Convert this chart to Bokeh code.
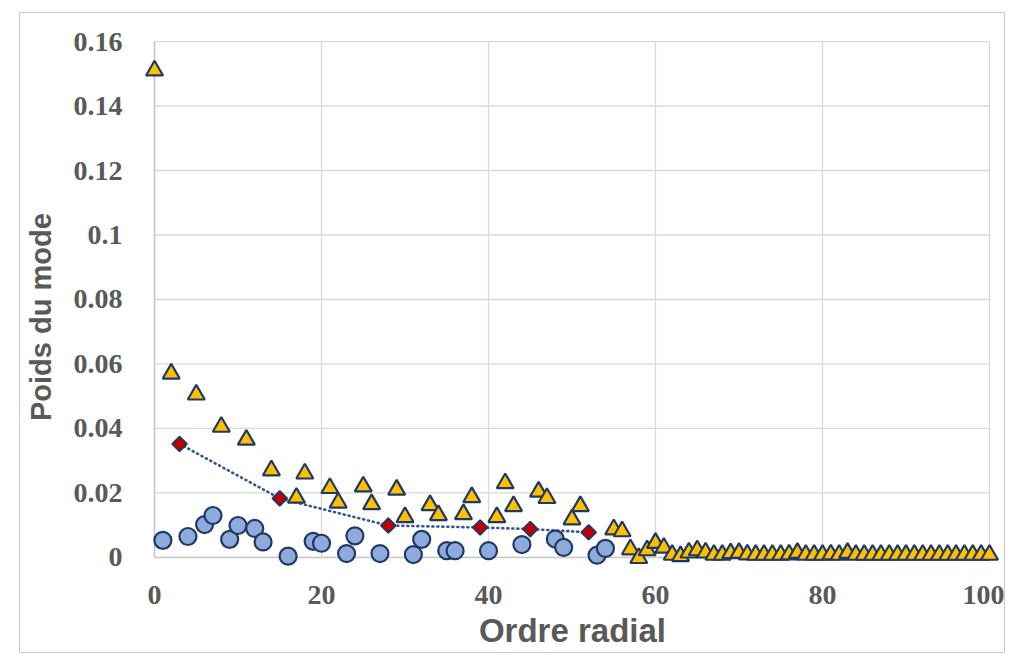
import numpy as np
from bokeh.plotting import figure
from bokeh.models import FixedTicker, Range1d
from bokeh.embed import file_html
from bokeh.resources import INLINE

# ---- data ----
tri_x = [0, 2, 5, 8, 11, 14, 17, 18, 21, 22, 25, 26, 29, 30, 33, 34, 37, 38, 41, 42, 43,
         46, 47, 50, 51, 55, 56, 57, 58, 59, 60, 61, 62, 63, 64, 65, 66, 67, 68, 69, 70,
         71, 72, 73, 74, 75, 76, 77, 78, 79, 80, 81, 82, 83, 84, 85, 86, 87, 88, 89, 90,
         91, 92, 93, 94, 95, 96, 97, 98, 99, 100]
tri_y = [0.151, 0.057, 0.0505, 0.0405, 0.0365, 0.027, 0.0185, 0.026, 0.0215, 0.017, 0.022,
         0.0165, 0.021, 0.0125, 0.0162, 0.0131, 0.0134, 0.0187, 0.0125, 0.023, 0.0159,
         0.0204, 0.0184, 0.0118, 0.0159, 0.0087, 0.0081,
         0.0025, -0.0002, 0.0022, 0.0045, 0.003, 0.0008, 0.0004, 0.0015, 0.0022, 0.0015,
         0.0008, 0.0008, 0.0013, 0.0014, 0.0009, 0.0008, 0.0008, 0.0008, 0.0008, 0.0009,
         0.0014, 0.0008, 0.0008, 0.0008, 0.0009, 0.0008, 0.0014, 0.0008, 0.0008, 0.0008,
         0.0008, 0.0008, 0.0008, 0.0008, 0.0008, 0.0008, 0.0008, 0.0008, 0.0008, 0.0008,
         0.0008, 0.0008, 0.0008, 0.0008]

circ_x = [1, 4, 6, 7, 9, 10, 12, 13, 16, 19, 20, 23, 24, 27, 31, 32, 35, 36, 40, 44, 48, 49, 53, 54]
circ_y = [0.0053, 0.0065, 0.0102, 0.0130, 0.0056, 0.0099, 0.0090, 0.0048, 0.0004, 0.0050,
          0.0044, 0.0012, 0.0067, 0.0012, 0.0009, 0.0056, 0.0021, 0.0021, 0.0021, 0.0040,
          0.0057, 0.0031, 0.0007, 0.0028]

dia_x = [3, 15, 28, 39, 45, 52]
dia_y = [0.0352, 0.0183, 0.0099, 0.0093, 0.0088, 0.0078]

x_ticks = [0, 20, 40, 60, 80, 100]
y_ticks = [0, 0.02, 0.04, 0.06, 0.08, 0.10, 0.12, 0.14, 0.16]
y_tick_labels = ["0", "0.02", "0.04", "0.06", "0.08", "0.1", "0.12", "0.14", "0.16"]

GRID = "#d9d9d9"
TXT = "#595959"
NAVY = "#1f3864"

p = figure(width=986, height=641, output_backend="svg", toolbar_location=None,
           x_range=Range1d(-1.44, 101.56), y_range=Range1d(-0.00405, 0.16311),
           min_border_left=122, min_border_right=4, min_border_top=18, min_border_bottom=84,
           styles={"margin-left": "19px", "margin-top": "12px", "border": "1px solid #c8c8c8"})
p.outline_line_color = None
p.xgrid.grid_line_color = None
p.ygrid.grid_line_color = None

# grid lines limited to the 0..100 / 0..0.16 area
p.segment(x0=[x_ticks[0]] * len(y_ticks), x1=[x_ticks[-1]] * len(y_ticks), y0=y_ticks, y1=y_ticks,
          line_color=GRID, line_width=1.3)
p.segment(x0=x_ticks, x1=x_ticks, y0=[y_ticks[0]] * len(x_ticks), y1=[y_ticks[-1]] * len(x_ticks),
          line_color=GRID, line_width=1.3)
p.segment(x0=[0, 0], x1=[100, 0], y0=[0, 0], y1=[0, 0.16], line_color="#c8c8c8", line_width=1.5)

# dotted connecting line
p.line(dia_x, dia_y, line_color="#2f5597", line_width=2.6, line_dash="1 4", line_cap="round")
p.scatter(dia_x, dia_y, marker="square", angle=np.pi / 4, size=10.5,
          fill_color="#c00000", line_color=NAVY, line_width=1.8)
p.scatter(circ_x, circ_y, marker="circle", size=17, fill_color="#8faadc",
          line_color=NAVY, line_width=2.2)
p.scatter(tri_x, tri_y, marker="triangle", size=17, fill_color="#ffc000",
          line_color=NAVY, line_width=2.2)

for ax in (p.xaxis[0], p.yaxis[0]):
    ax.axis_line_color = None
    ax.major_tick_line_color = None
    ax.minor_tick_line_color = None
    ax.major_label_text_font = "Liberation Serif"
    ax.major_label_text_font_style = "bold"
    ax.major_label_text_font_size = "28px"
    ax.major_label_text_color = TXT
    ax.axis_label_text_font = "Liberation Sans"
    ax.axis_label_text_font_style = "bold"
    ax.axis_label_text_color = TXT

p.xaxis.axis_label_text_font_size = "33px"
p.yaxis.axis_label_text_font_size = "29px"
p.xaxis.ticker = FixedTicker(ticks=x_ticks)
p.yaxis.ticker = FixedTicker(ticks=y_ticks)
p.yaxis.major_label_overrides = {t: l for t, l in zip(y_ticks, y_tick_labels)}
p.xaxis.major_label_standoff = 9
p.yaxis.major_label_standoff = 14
p.xaxis.axis_label = "Ordre radial"
p.yaxis.axis_label = "Poids du mode\u00a0\u00a0\u00a0\u00a0"
p.xaxis.axis_label_standoff = 5
p.yaxis.axis_label_standoff = 14

open("out.html", "w").write(file_html(p, INLINE))
